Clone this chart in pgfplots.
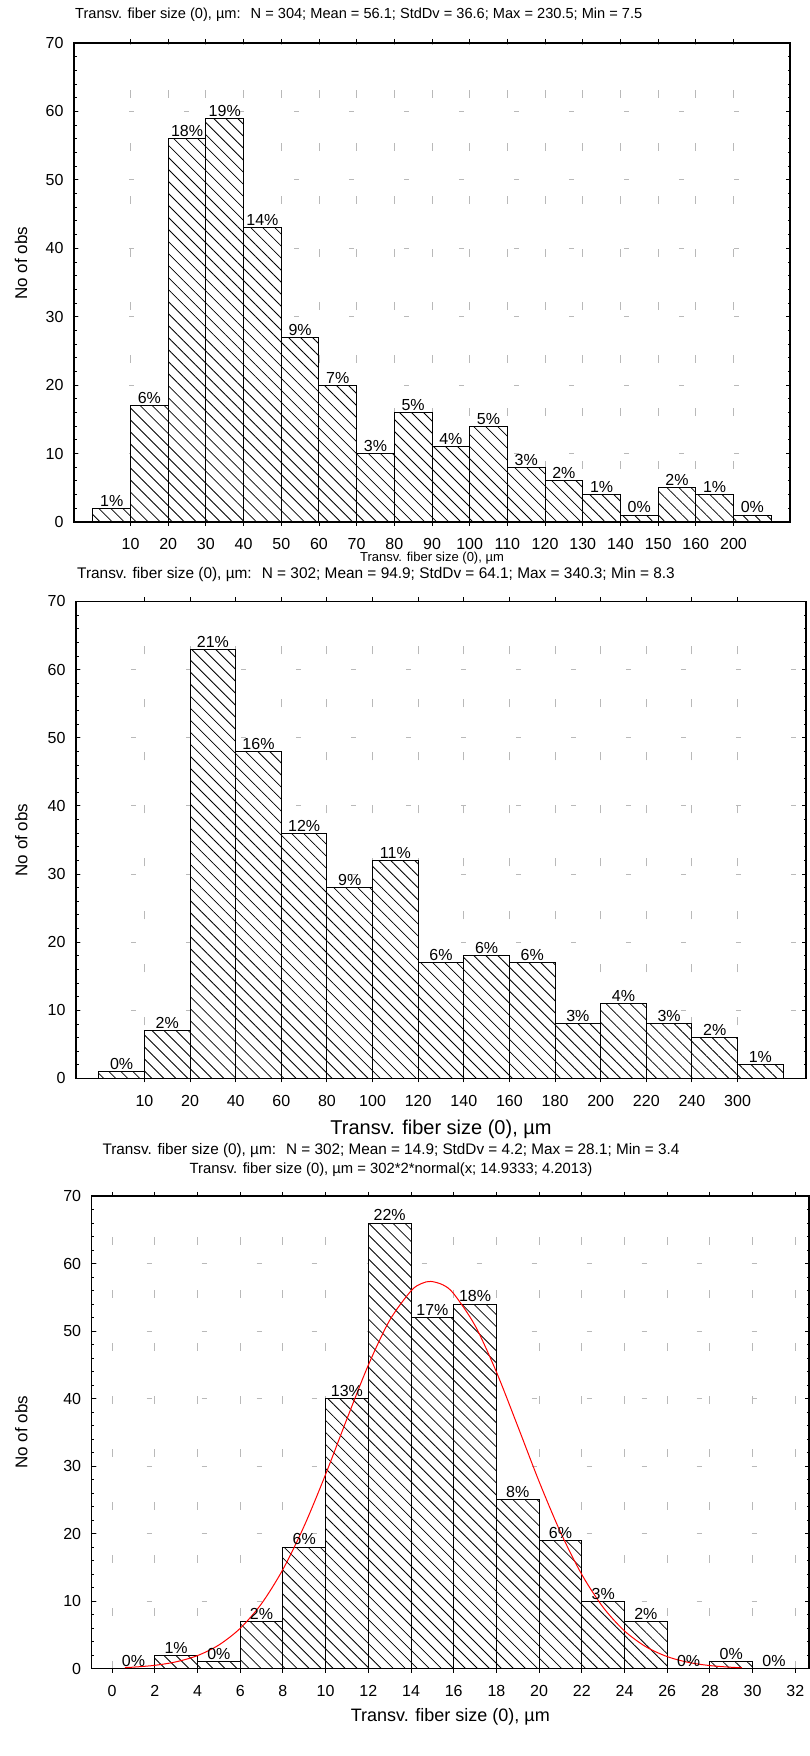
\documentclass[border=0pt]{standalone}
\usepackage{fontspec}
\setmainfont{Liberation Sans}
\usepackage{pgfplots}
\pgfplotsset{compat=1.18}
\usetikzlibrary{patterns.meta}

\newcommand\fs[1]{\fontsize{#1}{#1}\selectfont}

\pgfplotsset{
  histo/.style={
    scale only axis,
    ymin=0, ymax=70,
    ytick={0,10,...,70},
    minor y tick num=4,
    tick align=inside,
    major tick length=4pt,
    minor tick length=2.5pt,
    axis line style={line width=1.1pt},
    every tick/.style={black, line width=0.9pt},
    xmajorgrids, ymajorgrids,
    major x grid style={gray!55, line width=0.9pt, dash pattern=on 8pt off 45pt},
    major y grid style={gray!55, line width=0.9pt, dash pattern=on 5pt off 50pt},
    tick label style={font=\fs{16}},
    /pgf/number format/assume math mode=true,
    yticklabel style={xshift=-7pt},
    xticklabel style={inner sep=0pt, anchor=base, yshift=-24pt},
    ybar,
    ylabel={No of obs},
    ylabel style={font=\fs{17}, anchor=center},
  },
  bars/.style={
    draw=black, line width=1pt,
    preaction={fill=white},
    pattern={Lines[angle=-45,distance=8.5pt,line width=0.8pt]},
    nodes near coords,
    point meta=explicit symbolic,
    nodes near coords style={font=\fs{16}, anchor=south, inner sep=1.5pt},
  },
}

\begin{document}
\begin{tikzpicture}[x=1pt,y=1pt]
\useasboundingbox (0,0) rectangle (810,1756);

% ---------- Panel 1 ----------
\node[anchor=west, inner sep=0pt, font=\fs{14.6}] at (75,1741) {Transv. fiber size (0), µm:\hspace{10pt}N = 304; Mean = 56.1; StdDv = 36.6; Max = 230.5; Min = 7.5};
\begin{axis}[histo,
  at={(74pt,1234pt)}, anchor=south west,
  width=716pt, height=479pt,
  xmin=0, xmax=19, bar width=1,
  xtick={1.5,2.5,...,17.5},
  xticklabels={10,20,30,40,50,60,70,80,90,100,110,120,130,140,150,160,200},
  ylabel style={at={(axis description cs:-0.074,0.54)}},
  xlabel={Transv. fiber size (0), µm},
  xlabel style={font=\fs{13}, inner sep=0pt, at={(axis description cs:0.5,0)}, anchor=base, yshift=-39.5pt},
]
\addplot[bars] coordinates {
(1,2)[1\%] (2,17)[6\%] (3,56)[18\%] (4,59)[19\%] (5,43)[14\%] (6,27)[9\%]
(7,20)[7\%] (8,10)[3\%] (9,16)[5\%] (10,11)[4\%] (11,14)[5\%] (12,8)[3\%]
(13,6)[2\%] (14,4)[1\%] (15,1)[0\%] (16,5)[2\%] (17,4)[1\%] (18,1)[0\%]
};
\end{axis}

% ---------- Panel 2 ----------
\node[anchor=base west, inner sep=0pt, font=\fs{15.4}] at (77,1177.5) {Transv. fiber size (0), µm:\hspace{10pt}N = 302; Mean = 94.9; StdDv = 64.1; Max = 340.3; Min = 8.3};
\begin{axis}[histo,
  at={(76pt,677.5pt)}, anchor=south west,
  width=730pt, height=477pt,
  xmin=0, xmax=16, bar width=1,
  xtick={1.5,2.5,...,14.5},
  xticklabels={10,20,40,60,80,100,120,140,160,180,200,220,240,300},
  ylabel style={at={(axis description cs:-0.075,0.5)}},
  xlabel={Transv. fiber size (0), µm},
  xlabel style={font=\fs{20}, inner sep=0pt, at={(axis description cs:0.5,0)}, anchor=center, yshift=-51pt},
]
\addplot[bars] coordinates {
(1,1)[0\%] (2,7)[2\%] (3,63)[21\%] (4,48)[16\%] (5,36)[12\%] (6,28)[9\%]
(7,32)[11\%] (8,17)[6\%] (9,18)[6\%] (10,17)[6\%] (11,8)[3\%] (12,11)[4\%]
(13,8)[3\%] (14,6)[2\%] (15,2)[1\%]
};
\end{axis}

% ---------- Panel 3 ----------
\node[inner sep=0pt, font=\fs{15.3}] at (391,605) {Transv. fiber size (0), µm:\hspace{10pt}N = 302; Mean = 14.9; StdDv = 4.2; Max = 28.1; Min = 3.4};
\node[inner sep=0pt, font=\fs{14.8}] at (391,586) {Transv. fiber size (0), µm = 302*2*normal(x; 14.9333; 4.2013)};
\begin{axis}[histo,
  at={(91.6pt,87.3pt)}, anchor=south west,
  width=717.4pt, height=472.7pt,
  xmin=-0.96, xmax=32.64, bar width=2,
  xtick={0,2,...,32},
  ylabel style={at={(axis description cs:-0.098,0.5)}},
  xlabel={Transv. fiber size (0), µm},
  xlabel style={font=\fs{18}, inner sep=0pt, at={(axis description cs:0.5,0)}, anchor=center, yshift=-48.5pt},
]
\addplot[bars] coordinates {
(1,0)[0\%] (3,2)[1\%] (5,1)[0\%] (7,7)[2\%] (9,18)[6\%] (11,40)[13\%]
(13,66)[22\%] (15,52)[17\%] (17,54)[18\%] (19,25)[8\%] (21,19)[6\%] (23,10)[3\%]
(25,7)[2\%] (27,0)[0\%] (29,1)[0\%] (31,0)[0\%]
};
\addplot[red, line width=1pt, smooth, no marks] coordinates {
(0.6,0.17) (1,0.23) (2,0.50) (3,1.02) (4,1.94) (5,3.51) (6,5.98) (7,9.64)
(8,14.70) (9,21.16) (10,28.78) (11,37.00) (12,44.95) (13,51.59) (14,55.95)
(14.5,57.05) (14.93,57.35) (15.5,56.83) (16,55.53) (17,50.81) (18,43.94)
(19,35.90) (20,27.71) (21,20.22) (22,13.94) (23,9.08) (24,5.59) (25,3.25)
(26,1.79) (27,0.93) (28,0.46) (29,0.21) (29.5,0.14)
};
\end{axis}
\end{tikzpicture}
\end{document}
